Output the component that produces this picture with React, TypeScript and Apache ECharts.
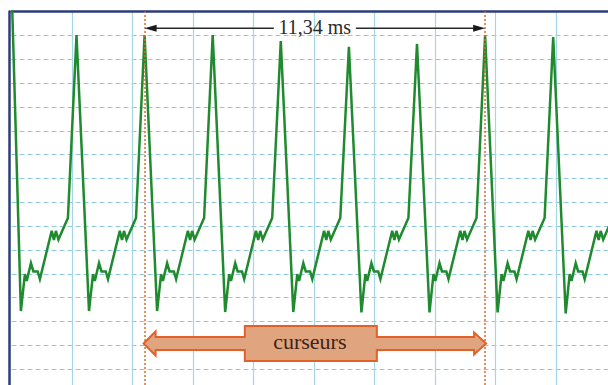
import React, { useEffect, useRef } from "react";
import * as echarts from "echarts";

// Oscilloscope trace: [time (ms), level (div)]
const waveform: [number, number][] = [
  [0.02, 8.3], [0.31, -4.56], [0.443, -3.01], [0.503, -3.3], [0.642, -2.55], [0.724, -2.9], [0.867, -2.9], [0.939, -3.22], [1.329, -1.2], [1.402, -1.58], [1.468, -1.2], [1.551, -1.56], [1.865, -0.66],
  [2.149, 7.01], [2.562, -4.56], [2.694, -3.01], [2.754, -3.3], [2.893, -2.55], [2.975, -2.9], [3.118, -2.9], [3.19, -3.22], [3.58, -1.2], [3.653, -1.58], [3.719, -1.2], [3.802, -1.56], [4.116, -0.66],
  [4.4, 7.01], [4.813, -4.56], [4.945, -3.01], [5.005, -3.3], [5.144, -2.55], [5.226, -2.9], [5.369, -2.9], [5.441, -3.22], [5.831, -1.2], [5.904, -1.58], [5.97, -1.2], [6.053, -1.56], [6.367, -0.66],
  [6.651, 7.01], [7.064, -4.6], [7.196, -3.01], [7.256, -3.3], [7.395, -2.55], [7.477, -2.9], [7.62, -2.9], [7.692, -3.22], [8.082, -1.2], [8.155, -1.58], [8.221, -1.2], [8.304, -1.56], [8.618, -0.66],
  [8.902, 6.76], [9.315, -4.6], [9.447, -3.01], [9.507, -3.3], [9.646, -2.55], [9.728, -2.9], [9.871, -2.9], [9.943, -3.22], [10.333, -1.2], [10.406, -1.58], [10.472, -1.2], [10.555, -1.56], [10.869, -0.66],
  [11.154, 6.52], [11.567, -4.62], [11.699, -3.01], [11.759, -3.3], [11.898, -2.55], [11.98, -2.9], [12.123, -2.9], [12.195, -3.22], [12.585, -1.2], [12.658, -1.58], [12.724, -1.2], [12.807, -1.56], [13.121, -0.66],
  [13.405, 6.64], [13.818, -4.62], [13.95, -3.01], [14.01, -3.3], [14.149, -2.55], [14.231, -2.9], [14.374, -2.9], [14.446, -3.22], [14.836, -1.2], [14.909, -1.58], [14.975, -1.2], [15.058, -1.56], [15.372, -0.66],
  [15.656, 7.01], [16.069, -4.62], [16.201, -3.01], [16.261, -3.3], [16.4, -2.55], [16.482, -2.9], [16.625, -2.9], [16.697, -3.22], [17.087, -1.2], [17.16, -1.58], [17.226, -1.2], [17.309, -1.56], [17.623, -0.66],
  [17.907, 6.93], [18.32, -4.66], [18.452, -3.01], [18.512, -3.3], [18.651, -2.55], [18.733, -2.9], [18.876, -2.9], [18.948, -3.22], [19.338, -1.2], [19.411, -1.58], [19.477, -1.2], [19.56, -1.56], [19.874, -0.66],
  [20.159, 6.9],
];

const cursorTimes = [4.4, 15.656];
const measureLabel = "11,34 ms";
const cursorLabel = "curseurs";
const measureLevel = 7.3;
const cursorArrowLevel = -5.92;
const timeMin = 0;
const timeMax = 20;
const timeStep = 2;
const levelMin = -8;
const levelMax = 8;
const levelStep = 1;

export default function App() {
  const ref = useRef<HTMLDivElement>(null);
  useEffect(() => {
    const el = ref.current!;
    const chart = echarts.init(el, null, { renderer: "svg" });
    const navy = "#2c3d78";
    chart.setOption({
      animation: false,
      backgroundColor: "#ffffff",
      grid: { left: 11.5, top: 11.5, width: 605, height: 381.6, outerBoundsMode: "none", containLabel: false },
      xAxis: {
        type: "value",
        position: "top",
        min: timeMin,
        max: timeMax,
        interval: timeStep,
        axisLine: { show: true, onZero: false, lineStyle: { color: navy, width: 2.5 } },
        axisTick: { show: false },
        axisLabel: { show: false },
        splitLine: { show: true, showMinLine: false, lineStyle: { color: "#a4d6e4", width: 1.2 } },
      },
      yAxis: {
        type: "value",
        min: levelMin,
        max: levelMax,
        interval: levelStep,
        offset: 2,
        axisLine: { show: true, onZero: false, lineStyle: { color: navy, width: 2.5 } },
        axisTick: { show: false },
        axisLabel: { show: false },
        splitLine: { show: true, showMaxLine: false, lineStyle: { color: "#8fcade", width: 1.2, type: [5, 3] } },
      },
      series: [
        {
          type: "line",
          data: waveform,
          symbol: "none",
          clip: true,
          z: 3,
          lineStyle: { color: "#1f8a2e", width: 2.5, join: "miter" },
          markLine: {
            silent: true,
            symbol: ["none", "none"],
            label: { show: false },
            lineStyle: { color: "#e8662e", width: 1.5, type: [2, 2] },
            data: cursorTimes.map((t) => ({ xAxis: t })),
            z: 5,
          },
        },
      ],
    });

    const toPx = (t: number, v: number) => chart.convertToPixel({ gridIndex: 0 }, [t, v]) as number[];
    const [xa, ya] = toPx(cursorTimes[0], measureLevel);
    const [xb] = toPx(cursorTimes[1], measureLevel);
    const xm = (xa + xb) / 2;
    const gap = 41;
    const [, yc] = toPx(cursorTimes[0], cursorArrowLevel);
    const bx0 = xm - 4 - 66;
    const bx1 = xm - 4 + 66;
    const sh = 6.5;
    const hh = 12;
    const bh = 17.5;
    const arrowPts = [
      [xa - 1, yc], [xa + 11, yc - hh], [xa + 11, yc - sh], [bx0, yc - sh], [bx0, yc - bh], [bx1, yc - bh], [bx1, yc - sh],
      [xb - 11, yc - sh], [xb - 11, yc - 11], [xb + 1, yc], [xb - 11, yc + 11], [xb - 11, yc + sh], [bx1, yc + sh],
      [bx1, yc + bh], [bx0, yc + bh], [bx0, yc + sh], [xa + 11, yc + sh], [xa + 11, yc + hh],
    ];

    chart.setOption({
      graphic: {
        elements: [
          { type: "line", z: 10, shape: { x1: xa + 10, y1: ya, x2: xm - gap, y2: ya }, style: { stroke: "#2a2a2a", lineWidth: 1.5 } },
          { type: "line", z: 10, shape: { x1: xm + gap, y1: ya, x2: xb - 10, y2: ya }, style: { stroke: "#2a2a2a", lineWidth: 1.5 } },
          { type: "polygon", z: 10, shape: { points: [[xa, ya], [xa + 12, ya - 3.5], [xa + 12, ya + 3.5]] }, style: { fill: "#1a1a1a" } },
          { type: "polygon", z: 10, shape: { points: [[xb, ya], [xb - 12, ya - 3.5], [xb - 12, ya + 3.5]] }, style: { fill: "#1a1a1a" } },
          {
            type: "text", z: 10, x: xm, y: ya - 1.5,
            style: { text: measureLabel, fontFamily: "Liberation Serif", fontSize: 20, fill: "#2a2a2a", align: "center", verticalAlign: "middle" },
          },
          { type: "polygon", z: 10, shape: { points: arrowPts }, style: { fill: "#e0a47f", stroke: "#e4602a", lineWidth: 2, lineJoin: "miter" } },
          {
            type: "text", z: 11, x: xm - 5, y: yc - 2.3,
            style: { text: cursorLabel, fontFamily: "Liberation Serif", fontSize: 22, fill: "#3a2418", align: "center", verticalAlign: "middle" },
          },
        ],
      },
    });
    return () => chart.dispose();
  }, []);
  return (
    <div
      ref={ref}
      style={{ position: "absolute", left: 0, top: 0, width: 608, height: 385, background: "#ffffff" }}
    />
  );
}
